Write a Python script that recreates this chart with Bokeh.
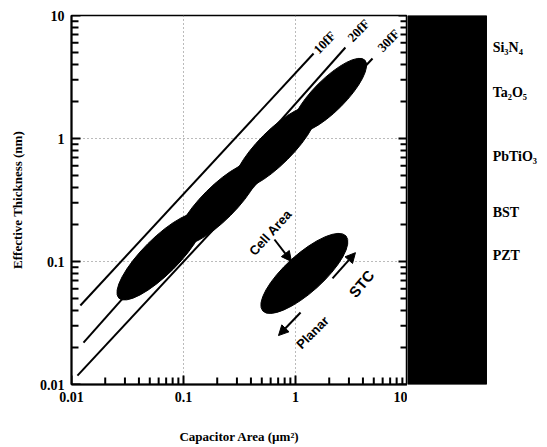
import math
from bokeh.plotting import figure
from bokeh.models import (LogTicker, NumeralTickFormatter, Arrow, NormalHead,
                          ColumnDataSource, Range1d)
from bokeh.layouts import row
from bokeh.core.properties import value
from bokeh.embed import file_html
from bokeh.resources import INLINE

# ---------------- data ----------------
line_labels = ["10fF", "20fF", "30fF"]
line_x0 = [0.0120, 0.0128, 0.0113]
line_y0 = [0.0439, 0.0219, 0.0118]
line_x1 = [1.45, 2.79, 4.87]
line_y1 = [4.91, 5.49, 4.47]
line_label_x = [1.82, 3.65, 6.76]
line_label_y = [6.03, 7.55, 6.26]

blob_x = [0.0624, 0.205, 0.662, 2.01]
blob_y = [0.110, 0.296, 0.845, 2.24]

cell_x = [1.20]
cell_y = [0.080]

arrow_names = ["Cell Area", "STC", "Planar"]
arrow_x0 = [0.649, 2.14, 1.11]
arrow_y0 = [0.151, 0.0728, 0.0385]
arrow_x1 = [0.920, 3.43, 0.705]
arrow_y1 = [0.100, 0.118, 0.025]
note_x = [0.598, 3.88, 1.42]
note_y = [0.172, 0.066, 0.0265]

materials = ["Si\u2083N\u2084", "Ta\u2082O\u2085", "PbTiO\u2083", "BST", "PZT"]
material_y = [5.5, 2.37, 0.714, 0.25, 0.112]

axis_min = 0.01
axis_max = 10
major_ticks = [0.01, 0.1, 1, 10]
minor_ticks = [0.02, 0.03, 0.04, 0.05, 0.06, 0.07, 0.08, 0.09,
               0.2, 0.3, 0.4, 0.5, 0.6, 0.7, 0.8, 0.9,
               2, 3, 4, 5, 6, 7, 8, 9]

# ---------------- styles ----------------
SERIF = "Liberation Serif"
SANS = "Liberation Sans"
blob_len = [118, 112, 112, 100]
blob_wid = [36, 34, 34, 32]
cell_len, cell_wid = 112, 38
FRAME_W, FRAME_H = 336, 369
MAJ, MIN = 9, 7          # tick lengths in pixels

A = figure(frame_width=FRAME_W, frame_height=FRAME_H, x_axis_type="log", y_axis_type="log",
           x_range=Range1d(axis_min, axis_max), y_range=Range1d(axis_min, axis_max),
           output_backend="svg", toolbar_location=None,
           min_border_left=71, min_border_top=15, min_border_bottom=63, min_border_right=0)
A.outline_line_color = "black"
A.outline_line_width = 1.5

for ax in (A.xaxis[0], A.yaxis[0]):
    ax.ticker = LogTicker(num_minor_ticks=10)
    ax.formatter = NumeralTickFormatter(format="0.[00]")
    ax.axis_line_width = 2
    ax.major_tick_line_color = None
    ax.minor_tick_line_color = None
    ax.major_tick_out = 0
    ax.minor_tick_out = 0
    ax.major_label_text_font = SERIF
    ax.major_label_text_font_style = "bold"
    ax.major_label_text_font_size = "14px"
    ax.major_label_text_color = "black"
    ax.axis_label_text_font = SERIF
    ax.axis_label_text_font_style = "bold"
    ax.axis_label_text_font_size = "13px"
    ax.axis_label_text_color = "black"
    ax.major_label_standoff = 7

A.xaxis.axis_label = "Capacitor Area (\u00b5m\u00b2)"
A.xaxis.axis_label_standoff = 24
A.yaxis.axis_label = "Effective Thickness (nm)"
A.yaxis.axis_label_standoff = 12

A.grid.grid_line_color = "#777777"
A.grid.grid_line_dash = "1 3"
A.grid.grid_line_width = 1

# inward tick marks on the bottom, left and right edges (lengths converted from pixels
# into multiplicative steps on the log scales)
decades = math.log10(axis_max / axis_min)
for ticks, ln in ((major_ticks, MAJ), (minor_ticks, MIN)):
    kx = 10 ** (ln * decades / FRAME_W)
    ky = 10 ** (ln * decades / FRAME_H)
    n = len(ticks)
    A.segment(x0=ticks, y0=[axis_min] * n, x1=ticks, y1=[axis_min * ky] * n,
              line_color="black", line_width=2)
    A.segment(x0=[axis_min] * n, y0=ticks, x1=[axis_min * kx] * n, y1=ticks,
              line_color="black", line_width=2)
    A.segment(x0=[axis_max] * n, y0=ticks, x1=[axis_max / kx] * n, y1=ticks,
              line_color="black", line_width=2)

# capacitance lines
lsrc = ColumnDataSource(dict(x0=line_x0, y0=line_y0, x1=line_x1, y1=line_y1))
A.segment("x0", "y0", "x1", "y1", source=lsrc, line_color="black", line_width=2)
A.text(x=line_label_x, y=line_label_y, text=line_labels, angle=math.radians(46),
       text_align="center", text_baseline="middle", text_font=value(SERIF),
       text_font_style="bold", text_font_size="13px", text_color="black")

# band of cell areas
A.ellipse(x=blob_x, y=blob_y, width=blob_len, height=blob_wid,
          width_units="screen", height_units="screen", angle=math.radians(45),
          fill_color="black", line_color="black")

# single cell ellipse
A.ellipse(x=cell_x, y=cell_y, width=cell_len, height=cell_wid,
          width_units="screen", height_units="screen", angle=math.radians(42),
          fill_color="black", line_color="black")

for i in range(len(arrow_names)):
    A.add_layout(Arrow(x_start=arrow_x0[i], y_start=arrow_y0[i], x_end=arrow_x1[i], y_end=arrow_y1[i],
                       line_width=2, line_color="black",
                       end=NormalHead(size=10, fill_color="black", line_color="black")))

A.text(x=note_x, y=note_y, text=arrow_names, angle=[math.radians(48), math.radians(50), math.radians(45)],
       text_align="center", text_baseline="middle", text_font=value(SANS),
       text_font_style="bold", text_font_size=["13px", "15px", "13px"], text_color="black")

# right panel
B = figure(frame_width=131, frame_height=FRAME_H, y_axis_type="log", x_range=Range1d(0, 1),
           y_range=A.y_range, output_backend="svg", toolbar_location=None,
           min_border_left=0, min_border_right=0, min_border_top=15, min_border_bottom=63)
B.xaxis.visible = False
B.yaxis.visible = False
B.grid.visible = False
B.outline_line_color = None
B.quad(left=[0], right=[0.603], bottom=[axis_min], top=[axis_max],
       fill_color="black", line_color="black")
B.text(x=[0.65] * len(materials), y=material_y, text=materials, text_align="left",
       text_baseline="middle", text_font=value(SERIF), text_font_style="bold",
       text_font_size="14px", text_color="black")

layout = row(A, B)
open("out.html", "w").write(file_html(layout, INLINE))
